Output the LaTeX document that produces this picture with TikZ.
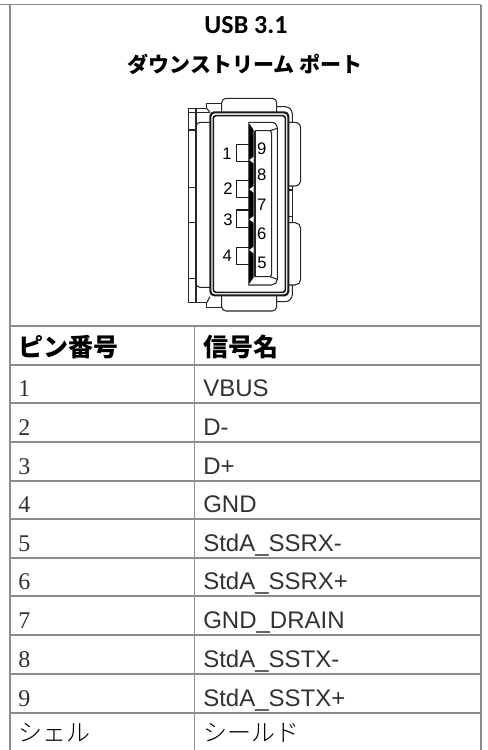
\documentclass[tikz,border=0pt]{standalone}
\usepackage{fontspec}
\setmainfont{Liberation Sans}
\newfontfamily\jpfont{Noto Sans CJK JP}
\newfontfamily\jplight{Noto Sans CJK JP Light}
\newfontfamily\headfont{Carlito}
\newfontfamily\numfont{Liberation Serif}
\newfontfamily\sigfont{Liberation Sans}
\newfontfamily\labfont{Liberation Sans}
\definecolor{gridc}{RGB}{140,140,140}
\definecolor{txtc}{RGB}{50,50,50}
\tikzset{
  gridline/.style={draw=gridc,line width=0.9pt},
  title/.style={anchor=center,font=\bfseries,text=black,inner sep=0pt},
  headcell/.style={anchor=west,font=\jpfont\fontsize{18.75}{20}\selectfont\bfseries,text=black,inner sep=0pt},
  numcell/.style={anchor=base west,font=\numfont\fontsize{18}{20}\selectfont,text=txtc,inner sep=0pt},
  sigcell/.style={anchor=base west,font=\sigfont\fontsize{18}{20}\selectfont,text=txtc,inner sep=0pt},
  jpcell/.style={anchor=west,font=\jplight\fontsize{18}{20}\selectfont,text=black,inner sep=0pt},
  pinlabel/.style={font=\labfont\fontsize{12.5}{14}\selectfont,text=black,inner sep=0pt},
  thinl/.style={draw=black!85,line width=0.8pt,line join=round},
  thickl/.style={draw=black!90,line width=1.6pt,line join=round},
  midl/.style={draw=black!90,line width=1.2pt,line join=round},
}
\begin{document}
\begin{tikzpicture}[x=0.75pt,y=-0.75pt]
\useasboundingbox (0,0) rectangle (487,750);
\fill[white] (0,0) rectangle (487,750);
% grid
\draw[gridline] (0,4.5) -- (481,4.5);
\draw[gridline] (10,4.5) -- (10,750);
\draw[gridline] (481,4.5) -- (481,750);
\draw[gridline] (194.5,326) -- (194.5,750);
\foreach \yy in {326,365,403,442,481,519,558,596,635,674,713}
  \draw[gridline] (10,\yy) -- (481,\yy);
% titles
\node[title] (t1) at (246,25.5) {\headfont\fontsize{19.5}{21}\selectfont USB 3.1};
\node[title] (t2) at (245,64.5) {\jpfont\fontsize{15.75}{18}\selectfont ダウンストリーム ポート};
% header
\node[headcell] (hpin) at (18,347) {ピン番号};
\node[headcell] (hsig) at (203,347) {信号名};
% rows
\node[numcell] (n1) at (18,396) {1};
\node[numcell] (n2) at (18,435) {2};
\node[numcell] (n3) at (18,474) {3};
\node[numcell] (n4) at (18,512) {4};
\node[numcell] (n5) at (18,551) {5};
\node[numcell] (n6) at (18,589) {6};
\node[numcell] (n7) at (18,628) {7};
\node[numcell] (n8) at (18,667) {8};
\node[numcell] (n9) at (18,706) {9};
\node[jpcell] (n10) at (18,733) {シェル};
\node[sigcell] (s1) at (203,396) {VBUS};
\node[sigcell] (s2) at (203,435) {D-};
\node[sigcell] (s3) at (203,474) {D+};
\node[sigcell] (s4) at (203,512) {GND};
\node[sigcell] (s5) at (203,551.5) {StdA\_SSRX-};
\node[sigcell] (s6) at (203,589.5) {StdA\_SSRX+};
\node[sigcell] (s7) at (203,628) {GND\_DRAIN};
\node[sigcell] (s8) at (203,667) {StdA\_SSTX-};
\node[sigcell] (s9) at (203,706) {StdA\_SSTX+};
\node[jpcell] (s10) at (203,733) {シールド};
% connector drawing (coordinates in 3x crop units)
\begin{scope}[xshift=120pt,yshift=-60pt,x=0.25pt,y=-0.25pt]
  % top and bottom tabs
  \draw[thinl] (185,97) -- (185,68) to[out=90,in=180] (198,55) -- (337,55) to[out=0,in=90] (350,68) -- (350,97);
  \draw[thinl] (185,648) -- (185,680) to[out=-90,in=180] (198,693) -- (337,693) to[out=0,in=-90] (350,680) -- (350,648);
  % left side brackets
  \draw[thinl] (185,70) -- (140,70) -- (140,85) -- (85,85) -- (85,668) -- (140,668) -- (140,682) -- (185,682);
  \draw[thinl] (108,85) -- (108,668);
  \draw[thinl] (85,97) -- (150,97);
  \draw[thinl] (85,322) -- (108,322) (85,428) -- (108,428);
  \draw[thinl] (85,150) -- (108,150) (85,595) -- (108,595);
  \draw[thinl] (150,127) -- (120,127) to[out=180,in=90] (108,140);
  \draw[thinl] (150,622) -- (120,622) to[out=180,in=-90] (108,610);
  \draw[thinl] (140,85) -- (150,97) (140,668) -- (150,650);
  % right side curve
  \draw[thinl] (350,80) -- (375,80) to[out=0,in=90] (397,102) -- (397,128);
  \draw[thinl] (350,665) -- (375,665) to[out=0,in=-90] (397,643) -- (397,615);
  \draw[thinl] (397,318) -- (397,428);
  \draw[thinl] (385,330) -- (397,330) (385,410) -- (397,410);
  % right tabs
  \draw[thinl] (385,127) -- (405,127) to[out=0,in=90] (422,145) -- (422,300) to[out=-90,in=0] (405,318) -- (385,318);
  \draw[thinl] (385,428) -- (405,428) to[out=0,in=90] (422,445) -- (422,598) to[out=-90,in=0] (405,615) -- (385,615);
  % housing
  \draw[thickl,rounded corners=3pt] (151,97) rectangle (385,646);
  \draw[midl,rounded corners=2pt] (160,107) rectangle (376,637);
  % tongue
  \draw[thinl] (265,127) -- (335,127) to[out=0,in=90] (352,145) -- (352,598) to[out=-90,in=0] (335,615) -- (265,615);
  \draw[thinl] (285,152) -- (330,152) -- (352,145);
  \draw[thinl] (285,590) -- (330,590) -- (352,598);
  \draw[thinl] (330,152) -- (335,158) -- (335,585) -- (330,590);
  \draw[thinl] (285,152) -- (285,590);
  \fill[black] (265,127) -- (281,150) -- (281,592) -- (265,615) -- cycle;
  \fill[white] (281,230) -- (268,240) -- (281,250) -- cycle;
  \fill[white] (281,318) -- (268,328) -- (281,338) -- cycle;
  \fill[white] (281,408) -- (268,418) -- (281,428) -- cycle;
  \fill[white] (281,500) -- (268,510) -- (281,520) -- cycle;
  % contacts
  \draw[midl] (268,193) -- (230,193) -- (230,245) -- (268,245);
  \draw[midl] (268,302) -- (230,302) -- (230,353) -- (268,353);
  \draw[midl] (268,390) -- (230,390) -- (230,442) -- (268,442);
  \draw[midl] (268,503) -- (230,503) -- (230,553) -- (268,553);
  % labels
  \node[pinlabel] (p1) at (201,220) {1};
  \node[pinlabel] (p2) at (204,327) {2};
  \node[pinlabel] (p3) at (204,420) {3};
  \node[pinlabel] (p4) at (202,528) {4};
  \node[pinlabel] (p9) at (305,205) {9};
  \node[pinlabel] (p8) at (305,284) {8};
  \node[pinlabel] (p7) at (305,375) {7};
  \node[pinlabel] (p6) at (305,462) {6};
  \node[pinlabel] (p5) at (306,548) {5};
\end{scope}
\end{tikzpicture}
\end{document}
